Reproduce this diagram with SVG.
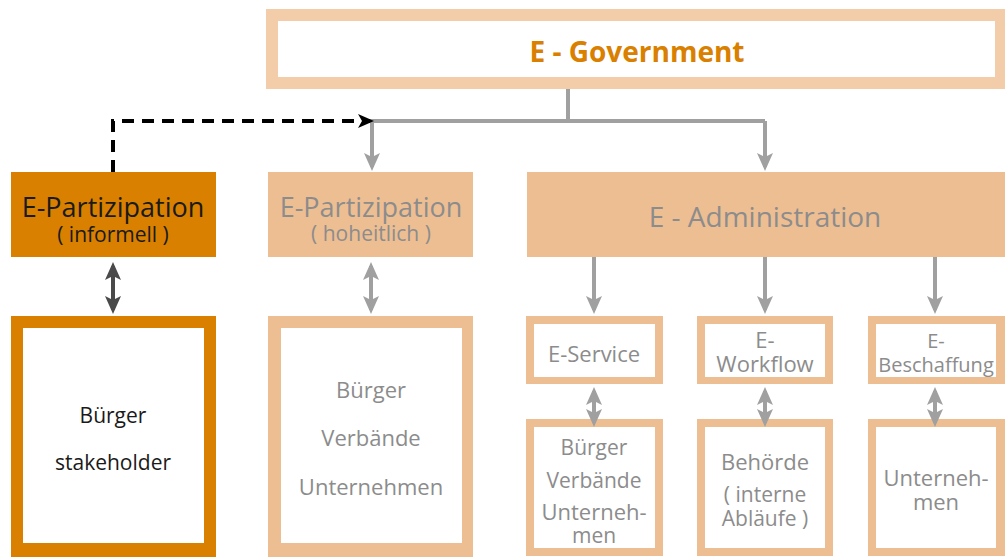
<svg xmlns="http://www.w3.org/2000/svg" width="1005" height="558" viewBox="0 0 1005 558">
<style>
  .peach { fill: #EEBE93; }
  .frame { fill: #EEBE93; }
  .inner { fill: #FFFFFF; }
  .t { font-family: "Open Sans", "Noto Sans", sans-serif; text-anchor: middle; }
  .gray { fill: #8C8C8C; }
  .blk { fill: #1A1A1A; }
  .conn { stroke: #A0A0A0; stroke-width: 4; fill: none; }
</style>
<defs>
  <marker id="ag" markerUnits="userSpaceOnUse" markerWidth="18" markerHeight="18" viewBox="0 0 18 18" refX="14" refY="9" orient="auto-start-reverse">
    <path d="M0,1 L18,9 L0,17 L4,9 z" fill="#A0A0A0"/>
  </marker>
  <marker id="ad" markerUnits="userSpaceOnUse" markerWidth="18" markerHeight="18" viewBox="0 0 18 18" refX="14" refY="9" orient="auto-start-reverse">
    <path d="M0,1 L18,9 L0,17 L4,9 z" fill="#4A4A4A"/>
  </marker>
  <marker id="ab" markerUnits="userSpaceOnUse" markerWidth="16" markerHeight="16" viewBox="0 0 16 16" refX="12" refY="8" orient="auto">
    <path d="M0,1 L16,8 L0,15 L4,8 z" fill="#000000"/>
  </marker>
</defs>
<rect width="1005" height="558" fill="#FFFFFF"/>

<g id="egov">
  <rect x="266" y="9" width="741" height="80" fill="#F3CCAA"/>
  <rect x="278" y="21" width="717" height="56" class="inner"/>
  <text x="637" y="62" class="t" font-size="28" font-weight="bold" fill="#D98000">E - Government</text>
</g>

<g id="epart-informell">
  <rect x="11" y="172" width="205" height="85" fill="#D98000"/>
  <text x="113" y="217" class="t blk" font-size="27">E-Partizipation</text>
  <text x="113" y="242" class="t blk" font-size="21">( informell )</text>
</g>

<g id="buerger-stakeholder">
  <rect x="11" y="316" width="205" height="241" fill="#D98000"/>
  <rect x="23" y="328" width="181" height="215" class="inner"/>
  <text x="113" y="423" class="t blk" font-size="21">Bürger</text>
  <text x="113" y="470" class="t blk" font-size="21">stakeholder</text>
</g>

<g id="epart-hoheitlich">
  <rect x="268" y="172" width="205" height="85" class="peach"/>
  <text x="371" y="217" class="t gray" font-size="27">E-Partizipation</text>
  <text x="371" y="241" class="t gray" font-size="21">( hoheitlich )</text>
</g>

<g id="buerger-verbaende">
  <rect x="268" y="316" width="205" height="241" class="frame"/>
  <rect x="281" y="328" width="181" height="215" class="inner"/>
  <text x="371" y="398" class="t gray" font-size="22">Bürger</text>
  <text x="371" y="446" class="t gray" font-size="22">Verbände</text>
  <text x="371" y="495" class="t gray" font-size="22">Unternehmen</text>
</g>

<g id="eadmin">
  <rect x="527" y="172" width="480" height="85" class="peach"/>
  <text x="765" y="227" class="t gray" font-size="28">E - Administration</text>
</g>

<g id="eservice">
  <rect x="526" y="316" width="137" height="68" class="frame"/>
  <rect x="534" y="324" width="121" height="53" class="inner"/>
  <text x="594" y="362" class="t gray" font-size="22">E-Service</text>
</g>

<g id="eworkflow">
  <rect x="697" y="316" width="136" height="68" class="frame"/>
  <rect x="705" y="324" width="120" height="53" class="inner"/>
  <text x="765" y="348" class="t gray" font-size="22">E-</text>
  <text x="765" y="372" class="t gray" font-size="22">Workflow</text>
</g>

<g id="ebeschaffung">
  <rect x="868" y="316" width="139" height="68" class="frame"/>
  <rect x="876" y="324" width="120" height="53" class="inner"/>
  <text x="936" y="348" class="t gray" font-size="20">E-</text>
  <text x="936" y="372" class="t gray" font-size="20">Beschaffung</text>
</g>

<g id="buerger-verbaende-unternehmen">
  <rect x="526" y="419" width="137" height="137" class="frame"/>
  <rect x="534" y="427" width="121" height="121" class="inner"/>
  <text x="594" y="455" class="t gray" font-size="21">Bürger</text>
  <text x="594" y="488" class="t gray" font-size="21">Verbände</text>
  <text x="594" y="520" class="t gray" font-size="22">Unterneh-</text>
  <text x="594" y="543" class="t gray" font-size="21">men</text>
</g>

<g id="behoerde">
  <rect x="697" y="419" width="136" height="137" class="frame"/>
  <rect x="705" y="427" width="120" height="121" class="inner"/>
  <text x="765" y="470" class="t gray" font-size="22">Behörde</text>
  <text x="765" y="502" class="t gray" font-size="21">( interne</text>
  <text x="765" y="526" class="t gray" font-size="21">Abläufe )</text>
</g>

<g id="unternehmen">
  <rect x="868" y="419" width="139" height="137" class="frame"/>
  <rect x="876" y="427" width="120" height="121" class="inner"/>
  <text x="936" y="486" class="t gray" font-size="22">Unterneh-</text>
  <text x="936" y="510" class="t gray" font-size="22">men</text>
</g>

<g id="connectors">
  <path class="conn" d="M568,89 V121 M370,121 H765"/>
  <path class="conn" d="M372,121 V167" marker-end="url(#ag)"/>
  <path class="conn" d="M765,121 V167" marker-end="url(#ag)"/>
  <path d="M113,172 V121 H370" stroke="#000" stroke-width="4" fill="none" stroke-dasharray="12,8" marker-end="url(#ab)"/>
  <path d="M113,266 V310" stroke="#4A4A4A" stroke-width="4" fill="none" marker-start="url(#ad)" marker-end="url(#ad)"/>
  <path class="conn" d="M371,266 V310" marker-start="url(#ag)" marker-end="url(#ag)"/>
  <path class="conn" d="M594,257 V310" marker-end="url(#ag)"/>
  <path class="conn" d="M765,257 V310" marker-end="url(#ag)"/>
  <path class="conn" d="M935,257 V310" marker-end="url(#ag)"/>
  <path class="conn" d="M594,391 V423" marker-start="url(#ag)" marker-end="url(#ag)"/>
  <path class="conn" d="M765,391 V423" marker-start="url(#ag)" marker-end="url(#ag)"/>
  <path class="conn" d="M935,391 V423" marker-start="url(#ag)" marker-end="url(#ag)"/>
</g>
</svg>
